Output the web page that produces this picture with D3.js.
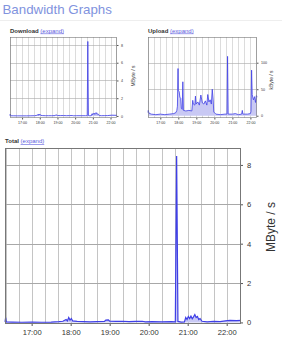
<!DOCTYPE html>
<html><head><meta charset="utf-8">
<script src="https://cdn.jsdelivr.net/npm/d3@7"></script>
<style>
html,body{margin:0;padding:0;background:#fff;}
svg{display:block;font-family:"Liberation Sans",Arial,sans-serif;}
</style></head>
<body>
<svg id="c" width="282" height="340"></svg>
<script>
// ---------- data ----------
const timeDomain = ["16:19", "22:22"];
const hourTicks = ["17:00", "18:00", "19:00", "20:00", "21:00", "22:00"];

const totalTimes = ["16:19","16:20","16:21","16:30","16:45","17:00","17:15","17:30","17:42","17:48","17:53","17:55","17:57","17:59","18:01","18:03","18:10","18:20","18:30","18:40","18:52","18:54","18:58","19:00","19:10","19:20","19:30","19:40","19:50","19:55","20:05","20:20","20:35","20:41","20:43","20:45","20:50","20:55","20:57","20:59","21:01","21:03","21:05","21:07","21:09","21:11","21:13","21:15","21:17","21:19","21:22","21:30","21:40","21:50","21:58","22:05","22:15","22:22"];
const totalValues = [0.03,0.24,0.03,0.02,0.01,0.02,0.01,0.02,0.04,0.06,0.15,0.08,0.25,0.12,0.2,0.08,0.05,0.04,0.03,0.04,0.05,0.12,0.13,0.06,0.05,0.06,0.04,0.05,0.06,0.03,0.04,0.03,0.04,0.03,8.45,0.05,0.02,0.03,0.25,0.15,0.3,0.2,0.32,0.18,0.28,0.4,0.25,0.3,0.15,0.2,0.06,0.03,0.05,0.04,0.08,0.1,0.09,0.1];

const downloadTimes = totalTimes;
const downloadValues = [0.02,0.22,0.02,0.02,0.01,0.01,0.01,0.02,0.03,0.05,0.13,0.07,0.22,0.1,0.18,0.07,0.04,0.03,0.03,0.03,0.04,0.1,0.11,0.05,0.04,0.05,0.03,0.04,0.05,0.02,0.03,0.03,0.03,0.03,8.4,0.04,0.02,0.03,0.24,0.14,0.29,0.19,0.31,0.17,0.27,0.38,0.24,0.29,0.14,0.19,0.05,0.03,0.04,0.04,0.07,0.09,0.08,0.07];

const uploadTimes = ["16:19","16:20","16:22","16:30","16:45","17:00","17:15","17:30","17:45","17:52","17:55","17:57","17:59","18:00","18:03","18:05","18:08","18:10","18:13","18:15","18:17","18:25","18:35","18:45","18:48","18:50","18:55","18:57","18:59","19:05","19:10","19:15","19:20","19:25","19:30","19:35","19:38","19:42","19:46","19:50","19:53","19:56","19:58","20:05","20:20","20:35","20:42","20:44","20:46","21:00","21:10","21:20","21:31","21:33","21:35","21:50","22:00","22:02","22:04","22:06","22:10","22:14","22:17","22:20","22:22"];
const uploadValues = [6,10,5,3,2,3,2,3,4,6,10,18,89,48,45,35,33,14,12,64,10,9,10,9,29,22,20,37,22,26,20,39,24,22,28,20,40,26,30,22,50,30,7,3,2,3,3,112,3,3,4,2,3,10,3,3,4,8,86,40,30,36,25,38,35];

const totalTicks = [0, 2, 4, 6, 8];
const downloadTicks = [0, 2, 4, 6, 8];
const uploadTicks = [0, 50, 100];

// ---------- drawing ----------
const svg = d3.select("#c");
const parse = d3.timeParse("%H:%M");

svg.append("text").attr("x", 2.5).attr("y", 14.2)
  .attr("font-size", 13.3).attr("fill", "#8193de").text("Bandwidth Graphs");
svg.append("line").attr("x1", 0).attr("x2", 282).attr("y1", 20.5).attr("y2", 20.5)
  .attr("stroke", "#eeeeee");

function panel(o) {
  const x = d3.scaleTime().domain(timeDomain.map(parse)).range([o.l, o.r]);
  const y = d3.scaleLinear().domain(o.yDomain).range([o.b, o.t]);
  const g = svg.append("g");

  // heading
  const h = g.append("text").attr("x", o.l - o.hx).attr("y", o.t - o.hy)
    .attr("font-size", o.hs);
  h.append("tspan").attr("font-weight", "bold").attr("fill", "#333").text(o.name + " ");
  h.append("tspan").attr("fill", "#5c5ce0").attr("text-decoration", "underline").text("(expand)");

  // vertical grid every 20 min
  const vg = d3.timeMinute.every(20).range(x.domain()[0], x.domain()[1]);
  g.append("g").selectAll("line").data(vg).join("line")
    .attr("x1", d => Math.round(x(d)) + 0.5).attr("x2", d => Math.round(x(d)) + 0.5)
    .attr("y1", o.t).attr("y2", o.b).attr("stroke", "#c4c4c4").attr("stroke-width", o.gw);
  // horizontal grid
  g.append("g").selectAll("line").data(o.ticks.filter(v => v !== 0)).join("line")
    .attr("x1", o.l).attr("x2", o.r)
    .attr("y1", d => Math.round(y(d)) + 0.5).attr("y2", d => Math.round(y(d)) + 0.5)
    .attr("stroke", "#a8a8a8").attr("stroke-width", o.gw);

  // data
  const pts = o.times.map((t, i) => [parse(t), o.values[i]]);
  g.append("path").datum(pts)
    .attr("d", d3.area().x(d => x(d[0])).y0(y(0)).y1(d => y(d[1])))
    .attr("fill", "#c9c9f4");
  g.append("path").datum(pts)
    .attr("d", d3.line().x(d => x(d[0])).y(d => y(d[1])))
    .attr("fill", "none").attr("stroke", "#3f3fe6").attr("stroke-width", o.lw);

  // frame
  g.append("rect").attr("x", o.l + 0.5).attr("y", o.t + 0.5)
    .attr("width", o.r - o.l - 1).attr("height", o.b - o.t - 1)
    .attr("fill", "none").attr("stroke", "#777").attr("stroke-width", o.gw);

  // x axis
  const xa = d3.axisBottom(x).tickValues(hourTicks.map(parse))
    .tickFormat(d3.timeFormat("%H:%M")).tickSize(o.tk).tickPadding(o.xp);
  const xg = g.append("g").attr("transform", `translate(0,${o.b})`).call(xa);
  xg.select(".domain").remove();
  xg.selectAll("line").attr("stroke", "#555");
  xg.selectAll("text").attr("font-size", o.fs).attr("fill", "#333").attr("font-family", null);

  // y axis (right)
  const ya = d3.axisRight(y).tickValues(o.ticks).tickSize(o.tk).tickPadding(o.yp);
  const yg = g.append("g").attr("transform", `translate(${o.r},0)`).call(ya);
  yg.select(".domain").remove();
  yg.selectAll("line").attr("stroke", "#555");
  yg.selectAll("text").attr("font-size", o.fs).attr("fill", "#333").attr("font-family", null);

  // unit label
  g.append("text").attr("transform", `translate(${o.ux},${o.uy}) rotate(-90)`)
    .attr("text-anchor", "middle").attr("font-size", o.us).attr("fill", "#333")
    .text(o.unit);
}

panel({name: "Download", times: downloadTimes, values: downloadValues, ticks: downloadTicks,
  l: 10, r: 117, t: 37, b: 118, yDomain: [-0.23, 8.9], hx: 0, hy: 4.5, hs: 6,
  gw: 0.6, lw: 0.8, tk: 1.5, xp: 2, yp: 2.5, fs: 3.6, unit: "MByte / s", ux: 135, uy: 76, us: 5});

panel({name: "Upload", times: uploadTimes, values: uploadValues, ticks: uploadTicks,
  l: 148, r: 257, t: 37, b: 118, yDomain: [-4.3, 148.5], hx: 0, hy: 4.5, hs: 6,
  gw: 0.6, lw: 0.8, tk: 1.5, xp: 2, yp: 2.5, fs: 3.6, unit: "kByte / s", ux: 273, uy: 80, us: 5});

panel({name: "Total", times: totalTimes, values: totalValues, ticks: totalTicks,
  l: 5, r: 241, t: 148, b: 324, yDomain: [-0.08, 8.86], hx: 0, hy: 5, hs: 6,
  gw: 1, lw: 1.2, tk: 2, xp: 4, yp: 4, fs: 7.6, unit: "MByte / s", ux: 275, uy: 227, us: 12});
</script>
</body></html>
